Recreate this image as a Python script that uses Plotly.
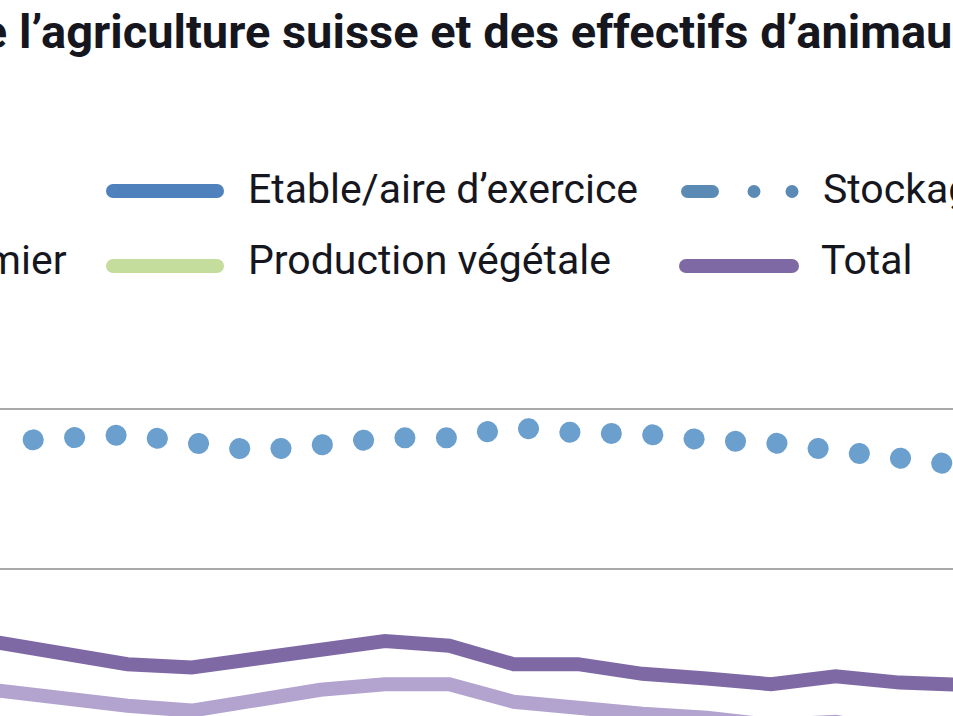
import plotly.graph_objects as go

W, H = 953, 716

# ---- data ----
years = list(range(1995, 2011))
stockage = [115.9, 116.6, 116.8, 115.8, 114.8, 115.5, 116.4, 116.4, 117.7, 117.0, 116.9, 116.1, 115.8, 114.8, 113.8, 112.9]
total = [90.8, 89.6, 88.1, 87.7, 88.8, 89.6, 91.0, 90.4, 88.1, 88.1, 86.9, 86.3, 85.6, 86.6, 85.8, 85.5]
epandage = [84.8, 83.7, 82.9, 82.3, 83.6, 84.9, 85.6, 85.6, 83.4, 82.5, 81.9, 81.4, 80.5, 80.9, 79.6, 78.9]
grid_vals = [100, 120]

title_text = "Évolution des émissions d’ammoniac de l’agriculture suisse et des effectifs d’animaux"
legend_col1 = ["Pâturage", "Épandage lisier/fumier"]
legend_col2 = ["Etable/aire d’exercice", "Production végétale"]
legend_col3 = ["Stockage des engrais de ferme", "Total"]

# ---- colours ----
C_STOCK = "#6b9fce"
C_STOCK_LEG = "#5b8bb4"
C_TOTAL = "#7f69a5"
C_EPAND = "#b3a3cf"
C_ETABLE = "#4f81bd"
C_PRODV = "#c4dd9c"
TXT = "#16161e"

fig = go.Figure()
fig.add_trace(go.Scatter(x=years, y=stockage, mode="lines", name=legend_col3[0],
                         line=dict(color=C_STOCK, width=21, dash="21px,20.5px")))
fig.add_trace(go.Scatter(x=years, y=epandage, mode="lines", name=legend_col1[1],
                         line=dict(color=C_EPAND, width=14)))
fig.add_trace(go.Scatter(x=years, y=total, mode="lines", name=legend_col3[1],
                         line=dict(color=C_TOTAL, width=14)))

ppy = 64.38  # pixels per year
x0 = years[0] + 1.4 / ppy
x1 = x0 + W / ppy
ppv = 8.0  # pixels per unit
ytop = 120 + 409 / ppv
ybot = 120 - (H - 409) / ppv


def px(x):
    return x / W


def py(y):
    return 1 - y / H


shapes = []


def circle(cx, cy, r, color):
    shapes.append(dict(type="circle", xref="paper", yref="paper",
                       x0=px(cx - r), x1=px(cx + r), y0=py(cy + r), y1=py(cy - r),
                       fillcolor=color, line=dict(width=0), layer="above"))


def swatch(xa, xb, y, color, w=14):
    r = w / 2
    shapes.append(dict(type="line", xref="paper", yref="paper",
                       x0=px(xa + r), x1=px(xb - r), y0=py(y), y1=py(y),
                       line=dict(color=color, width=w), layer="above"))
    circle(xa + r, y, r, color)
    circle(xb - r, y, r, color)


swatch(106, 224, 191, C_ETABLE)
swatch(106, 224, 266, C_PRODV)
swatch(681, 719, 191.5, C_STOCK_LEG, 13)
circle(754, 191.5, 6.5, C_STOCK_LEG)
circle(792, 191.5, 6.5, C_STOCK_LEG)
swatch(679, 799, 266, C_TOTAL)

annotations = [
    dict(text=title_text, xref="paper", yref="paper", x=px(978), y=py(32),
         xanchor="right", yanchor="middle", showarrow=False,
         font=dict(family="Roboto", size=47, color=TXT, weight="bold")),
    dict(text=legend_col1[1], xref="paper", yref="paper", x=px(69), y=py(260),
         xanchor="right", yanchor="middle", showarrow=False,
         font=dict(family="Roboto", size=41, color=TXT)),
    dict(text=legend_col2[0], xref="paper", yref="paper", x=px(246), y=py(189),
         xanchor="left", yanchor="middle", showarrow=False,
         font=dict(family="Roboto", size=41, color=TXT)),
    dict(text=legend_col2[1], xref="paper", yref="paper", x=px(246), y=py(260),
         xanchor="left", yanchor="middle", showarrow=False,
         font=dict(family="Roboto", size=41, color=TXT)),
    dict(text=legend_col3[0], xref="paper", yref="paper", x=px(821), y=py(189),
         xanchor="left", yanchor="middle", showarrow=False,
         font=dict(family="Roboto", size=41, color=TXT)),
    dict(text=legend_col3[1], xref="paper", yref="paper", x=px(819), y=py(260),
         xanchor="left", yanchor="middle", showarrow=False,
         font=dict(family="Roboto", size=41, color=TXT)),
]

fig.update_layout(
    width=W, height=H,
    margin=dict(l=0, r=0, t=0, b=0, pad=0),
    paper_bgcolor="white", plot_bgcolor="white",
    showlegend=False,
    shapes=shapes,
    annotations=annotations,
    xaxis=dict(range=[x0, x1], showgrid=False, zeroline=False, showline=False,
               showticklabels=False, ticks=""),
    yaxis=dict(range=[ybot, ytop], tickvals=grid_vals, showticklabels=False,
               gridcolor="#a9a9a9", gridwidth=2, zeroline=False, showline=False, ticks=""),
)

post = """
document.body.style.margin='0';
var gd=document.getElementById('{plot_id}');
var tr=gd.querySelectorAll('.scatterlayer .trace');
if(tr.length){
  var p=tr[0].querySelector('path.js-line');
  if(p){
    p.style.strokeLinecap='round';
    p.style.strokeDasharray='0.1px,41.4px';
    p.style.strokeDashoffset='6.9px';
  }
}
"""

fig.write_html("out.html", post_script=post, config=dict(displayModeBar=False))
